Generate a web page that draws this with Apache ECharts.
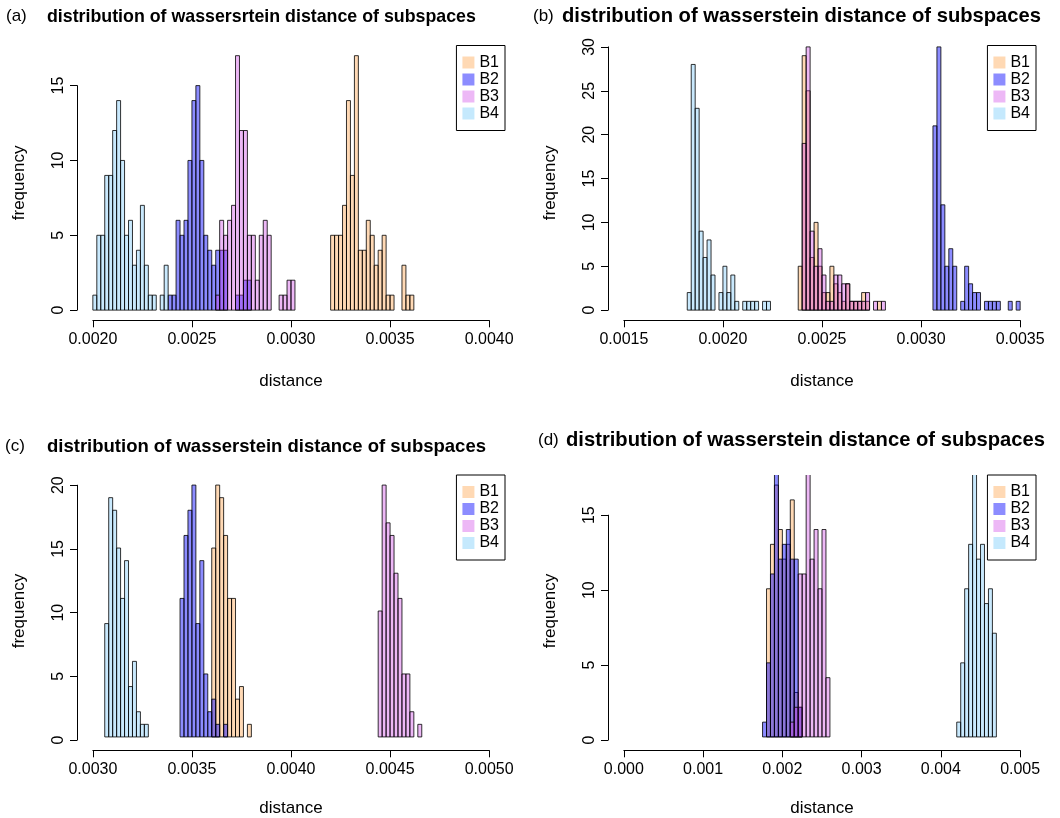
<!DOCTYPE html>
<html><head><meta charset="utf-8">
<script src="https://cdn.jsdelivr.net/npm/echarts@6/dist/echarts.min.js"></script>
<style>html,body{margin:0;padding:0;background:#fff}#c{width:1060px;height:818px}</style>
</head><body><div id="c"></div>
<script>
// ---------------- data ----------------
const seriesNames = ['B1', 'B2', 'B3', 'B4'];
const panelTags = ['(a)', '(b)', '(c)', '(d)'];
const panelTitles = [
  'distribution of wassersrtein distance of subspaces',
  'distribution of wasserstein distance of subspaces',
  'distribution of wasserstein distance of subspaces',
  'distribution of wasserstein distance of subspaces'
];
const xAxisTitle = 'distance';
const yAxisTitle = 'frequency';

// panel (a): bin width and histogram counts (first bin left edge + counts)
const aBinWidth = 0.00002;
const aB1Start = 0.00320, aB1 = [5,5,5,7,14,9,17,4,4,6,5,3,4,5,1,1,0,0,3,1,1];
const aB2Start = 0.00238, aB2 = [1,1,6,5,6,10,14,15,10,5,4,3,4,4,4,0,0,1,1,2,2];
const aB3Start = 0.00262, aB3 = [1,6,5,6,7,17,12,12,5,5,2,5,6,5,0,0,1,1,2,2];
const aB4Start = 0.00200, aB4 = [1,5,5,9,9,12,14,10,5,6,3,4,7,3,1,1,0,1,3];
const aXTickLabels = ['0.0020', '0.0025', '0.0030', '0.0035', '0.0040'];
const aYTickLabels = ['0', '5', '10', '15'];

// panel (b)
const bBinWidth = 0.00002;
const bB1Start = 0.00238, bB1 = [5,29,25,6,10,5,2,2,5,3,2,1,3,1,1,1,2,1,0,0,1,0];
const bB2Start = 0.00306, bB2 = [21,30,12,5,7,5,0,1,5,3,2,2,0,1,1,1,1,0,0,1,0,1];
const bB3Start = 0.00238, bB3 = [0,19,30,9,5,7,4,1,1,4,4,3,3,1,1,1,1,2,0,1,0,1];
const bB4Start = 0.00182, bB4 = [2,28,23,9,6,8,4,0,2,5,2,4,1,0,1,1,1,1,0,1,1];
const bXTickLabels = ['0.0015', '0.0020', '0.0025', '0.0030', '0.0035'];
const bYTickLabels = ['0', '5', '10', '15', '20', '25', '30'];

// panel (c)
const cBinWidth = 0.00002;
const cB1Start = 0.00360, cB1 = [15,20,19,16,11,11,3,4,0,1];
const cB2Start = 0.00344, cB2 = [11,16,18,20,9,14,5,2,3,1,0,1];
const cB3Start = 0.00444, cB3 = [10,20,17,16,13,11,5,5,2,0,1];
const cB4Start = 0.00306, cB4 = [9,19,18,15,11,14,4,6,2,1,1];
const cXTickLabels = ['0.0030', '0.0035', '0.0040', '0.0045', '0.0050'];
const cYTickLabels = ['0', '5', '10', '15', '20'];

// panel (d)
const dBinWidth = 0.00005;
const dB1Start = 0.00180, dB1 = [10,13,17,14,12,13,16,3,2];
const dB2Start = 0.00175, dB2 = [1,5,11,18,12,13,14,12,12,2];
const dB3Start = 0.00210, dB3 = [1,2,11,11,19,12,14,10,14,4];
const dB4Start = 0.00420, dB4 = [1,5,10,13,20,12,13,9,10,7];
const dXTickLabels = ['0.000', '0.001', '0.002', '0.003', '0.004', '0.005'];
const dYTickLabels = ['0', '5', '10', '15'];

// ---------------- styles & layout ----------------
const W = 1060, H = 818;
const FONT = "'Liberation Sans', Arial, Helvetica, sans-serif";
const fills = ['rgba(255,140,30,0.33)', 'rgba(0,0,255,0.45)', 'rgba(204,51,230,0.35)', 'rgba(135,206,250,0.45)'];
const legendFills = ['rgb(255,217,180)', 'rgb(140,140,255)', 'rgb(237,184,246)', 'rgb(197,233,253)'];
const layouts = [
  { plot: [77, 505, 45.5, 320.3], tag: [6, 17], title: [47, 17], tfs: 17.8 },
  { plot: [608, 1036, 45.5, 320.3], tag: [533, 17], title: [562, 17], tfs: 20.2 },
  { plot: [77, 505, 475, 750.3], tag: [5, 447], title: [47, 447], tfs: 18.5 },
  { plot: [608, 1036, 475, 750.3], tag: [538, 441], title: [566, 441], tfs: 20.2 }
];

const panels = [
  { bw: aBinWidth, starts: [aB1Start, aB2Start, aB3Start, aB4Start], counts: [aB1, aB2, aB3, aB4], xl: aXTickLabels, yl: aYTickLabels },
  { bw: bBinWidth, starts: [bB1Start, bB2Start, bB3Start, bB4Start], counts: [bB1, bB2, bB3, bB4], xl: bXTickLabels, yl: bYTickLabels },
  { bw: cBinWidth, starts: [cB1Start, cB2Start, cB3Start, cB4Start], counts: [cB1, cB2, cB3, cB4], xl: cXTickLabels, yl: cYTickLabels },
  { bw: dBinWidth, starts: [dB1Start, dB2Start, dB3Start, dB4Start], counts: [dB1, dB2, dB3, dB4], xl: dXTickLabels, yl: dYTickLabels }
];

const grid = [], xAxis = [], yAxis = [], series = [], legend = [], title = [];

panels.forEach((p, k) => {
  const L = layouts[k];
  const [pl, pr, pt, pb] = L.plot;
  const xmin = parseFloat(p.xl[0]), xmax = parseFloat(p.xl[p.xl.length - 1]);
  const xstep = parseFloat(p.xl[1]) - xmin;
  const ymaxTick = parseFloat(p.yl[p.yl.length - 1]);
  const ystep = parseFloat(p.yl[1]) - parseFloat(p.yl[0]);
  const xr = xmax - xmin, ext = 0.04 * xr;
  const ylim = Math.max.apply(null, p.counts[0]); // first histogram sets ylim
  const ppx = (pr - pl) / (1.08 * xr);
  const ppy = (pb - pt) / (1.08 * ylim);
  const g2l = pl + ext * ppx, g2r = pr - ext * ppx;
  const y0 = pb - 0.04 * ylim * ppy;
  const yTop = y0 - ymaxTick * ppy;

  grid.push({ left: pl, top: pt, width: pr - pl, height: pb - pt });
  grid.push({ left: g2l, top: yTop, width: g2r - g2l, height: y0 - yTop });
  const gi = grid.length - 2;

  xAxis.push({
    type: 'value', gridIndex: gi, min: xmin - ext, max: xmax + ext,
    axisLine: { show: false }, axisTick: { show: false }, axisLabel: { show: false }, splitLine: { show: false },
    name: xAxisTitle, nameLocation: 'middle', nameGap: 53,
    nameTextStyle: { fontSize: 17, color: '#000', fontFamily: FONT }
  });
  xAxis.push({
    type: 'value', gridIndex: gi + 1, min: xmin, max: xmax, interval: xstep,
    offset: pb - y0,
    axisLine: { show: true, onZero: false, lineStyle: { color: '#000', width: 1 } },
    axisTick: { show: true, length: 7, lineStyle: { color: '#000', width: 1 } },
    axisLabel: { fontSize: 16, color: '#000', margin: 11, fontFamily: FONT,
      formatter: v => p.xl[Math.round((v - xmin) / xstep)] },
    splitLine: { show: false }
  });
  yAxis.push({
    type: 'value', gridIndex: gi, min: -0.04 * ylim, max: 1.04 * ylim,
    axisLine: { show: false }, axisTick: { show: false }, axisLabel: { show: false }, splitLine: { show: false },
    name: yAxisTitle, nameLocation: 'middle', nameGap: 49, nameRotate: 90,
    nameTextStyle: { fontSize: 17, color: '#000', fontFamily: FONT }
  });
  yAxis.push({
    type: 'value', gridIndex: gi + 1, min: 0, max: ymaxTick, interval: ystep,
    offset: g2l - pl,
    axisLine: { show: true, onZero: false, lineStyle: { color: '#000', width: 1 } },
    axisTick: { show: true, length: 7, lineStyle: { color: '#000', width: 1 } },
    axisLabel: { fontSize: 16, color: '#000', margin: 10, rotate: 90, fontFamily: FONT,
      formatter: v => p.yl[Math.round(v / ystep)] },
    splitLine: { show: false }
  });

  p.counts.forEach((cnts, s) => {
    const start = p.starts[s];
    const data = cnts.map((c, i) => [start + i * p.bw, start + (i + 1) * p.bw, c]);
    series.push({
      type: 'custom', name: seriesNames[s], xAxisIndex: gi, yAxisIndex: gi, clip: true,
      data: data, encode: { x: [0, 1], y: 2 }, z: 2 + s,
      itemStyle: { color: legendFills[s] },
      renderItem: (params, api) => {
        const c = api.value(2);
        if (!c) return null;
        const a = api.coord([api.value(0), 0]);
        const b = api.coord([api.value(1), c]);
        return {
          type: 'rect',
          shape: { x: a[0], y: b[1], width: b[0] - a[0], height: a[1] - b[1] },
          style: { fill: fills[s], stroke: 'rgba(0,0,0,0.8)', lineWidth: 1 }
        };
      }
    });
  });

  legend.push({
    orient: 'vertical', right: W - pr, top: pt, selectedMode: false,
    backgroundColor: '#fff', borderColor: '#000', borderWidth: 1, borderRadius: 0,
    padding: [9, 6, 9, 6], itemWidth: 12, itemHeight: 12, itemGap: 1,
    textStyle: { fontSize: 16, color: '#000', fontFamily: FONT, lineHeight: 16 },
    data: seriesNames.map((n, s) => ({ name: n, icon: 'rect', itemStyle: { color: legendFills[s], borderWidth: 0 } }))
  });

  title.push({ text: panelTags[k], left: L.tag[0], top: L.tag[1] - 9, padding: 0,
    textStyle: { fontSize: 17, fontWeight: 'normal', color: '#000', fontFamily: FONT } });
  title.push({ text: panelTitles[k], left: L.title[0], top: L.title[1] - L.tfs / 2, padding: 0,
    textStyle: { fontSize: L.tfs, fontWeight: 'bold', color: '#000', fontFamily: FONT } });
});

const chart = echarts.init(document.getElementById('c'), null, { renderer: 'canvas', width: W, height: H });
chart.setOption({
  animation: false,
  backgroundColor: '#fff',
  textStyle: { fontFamily: FONT },
  title, grid, xAxis, yAxis, legend, series
});
</script>
</body></html>
